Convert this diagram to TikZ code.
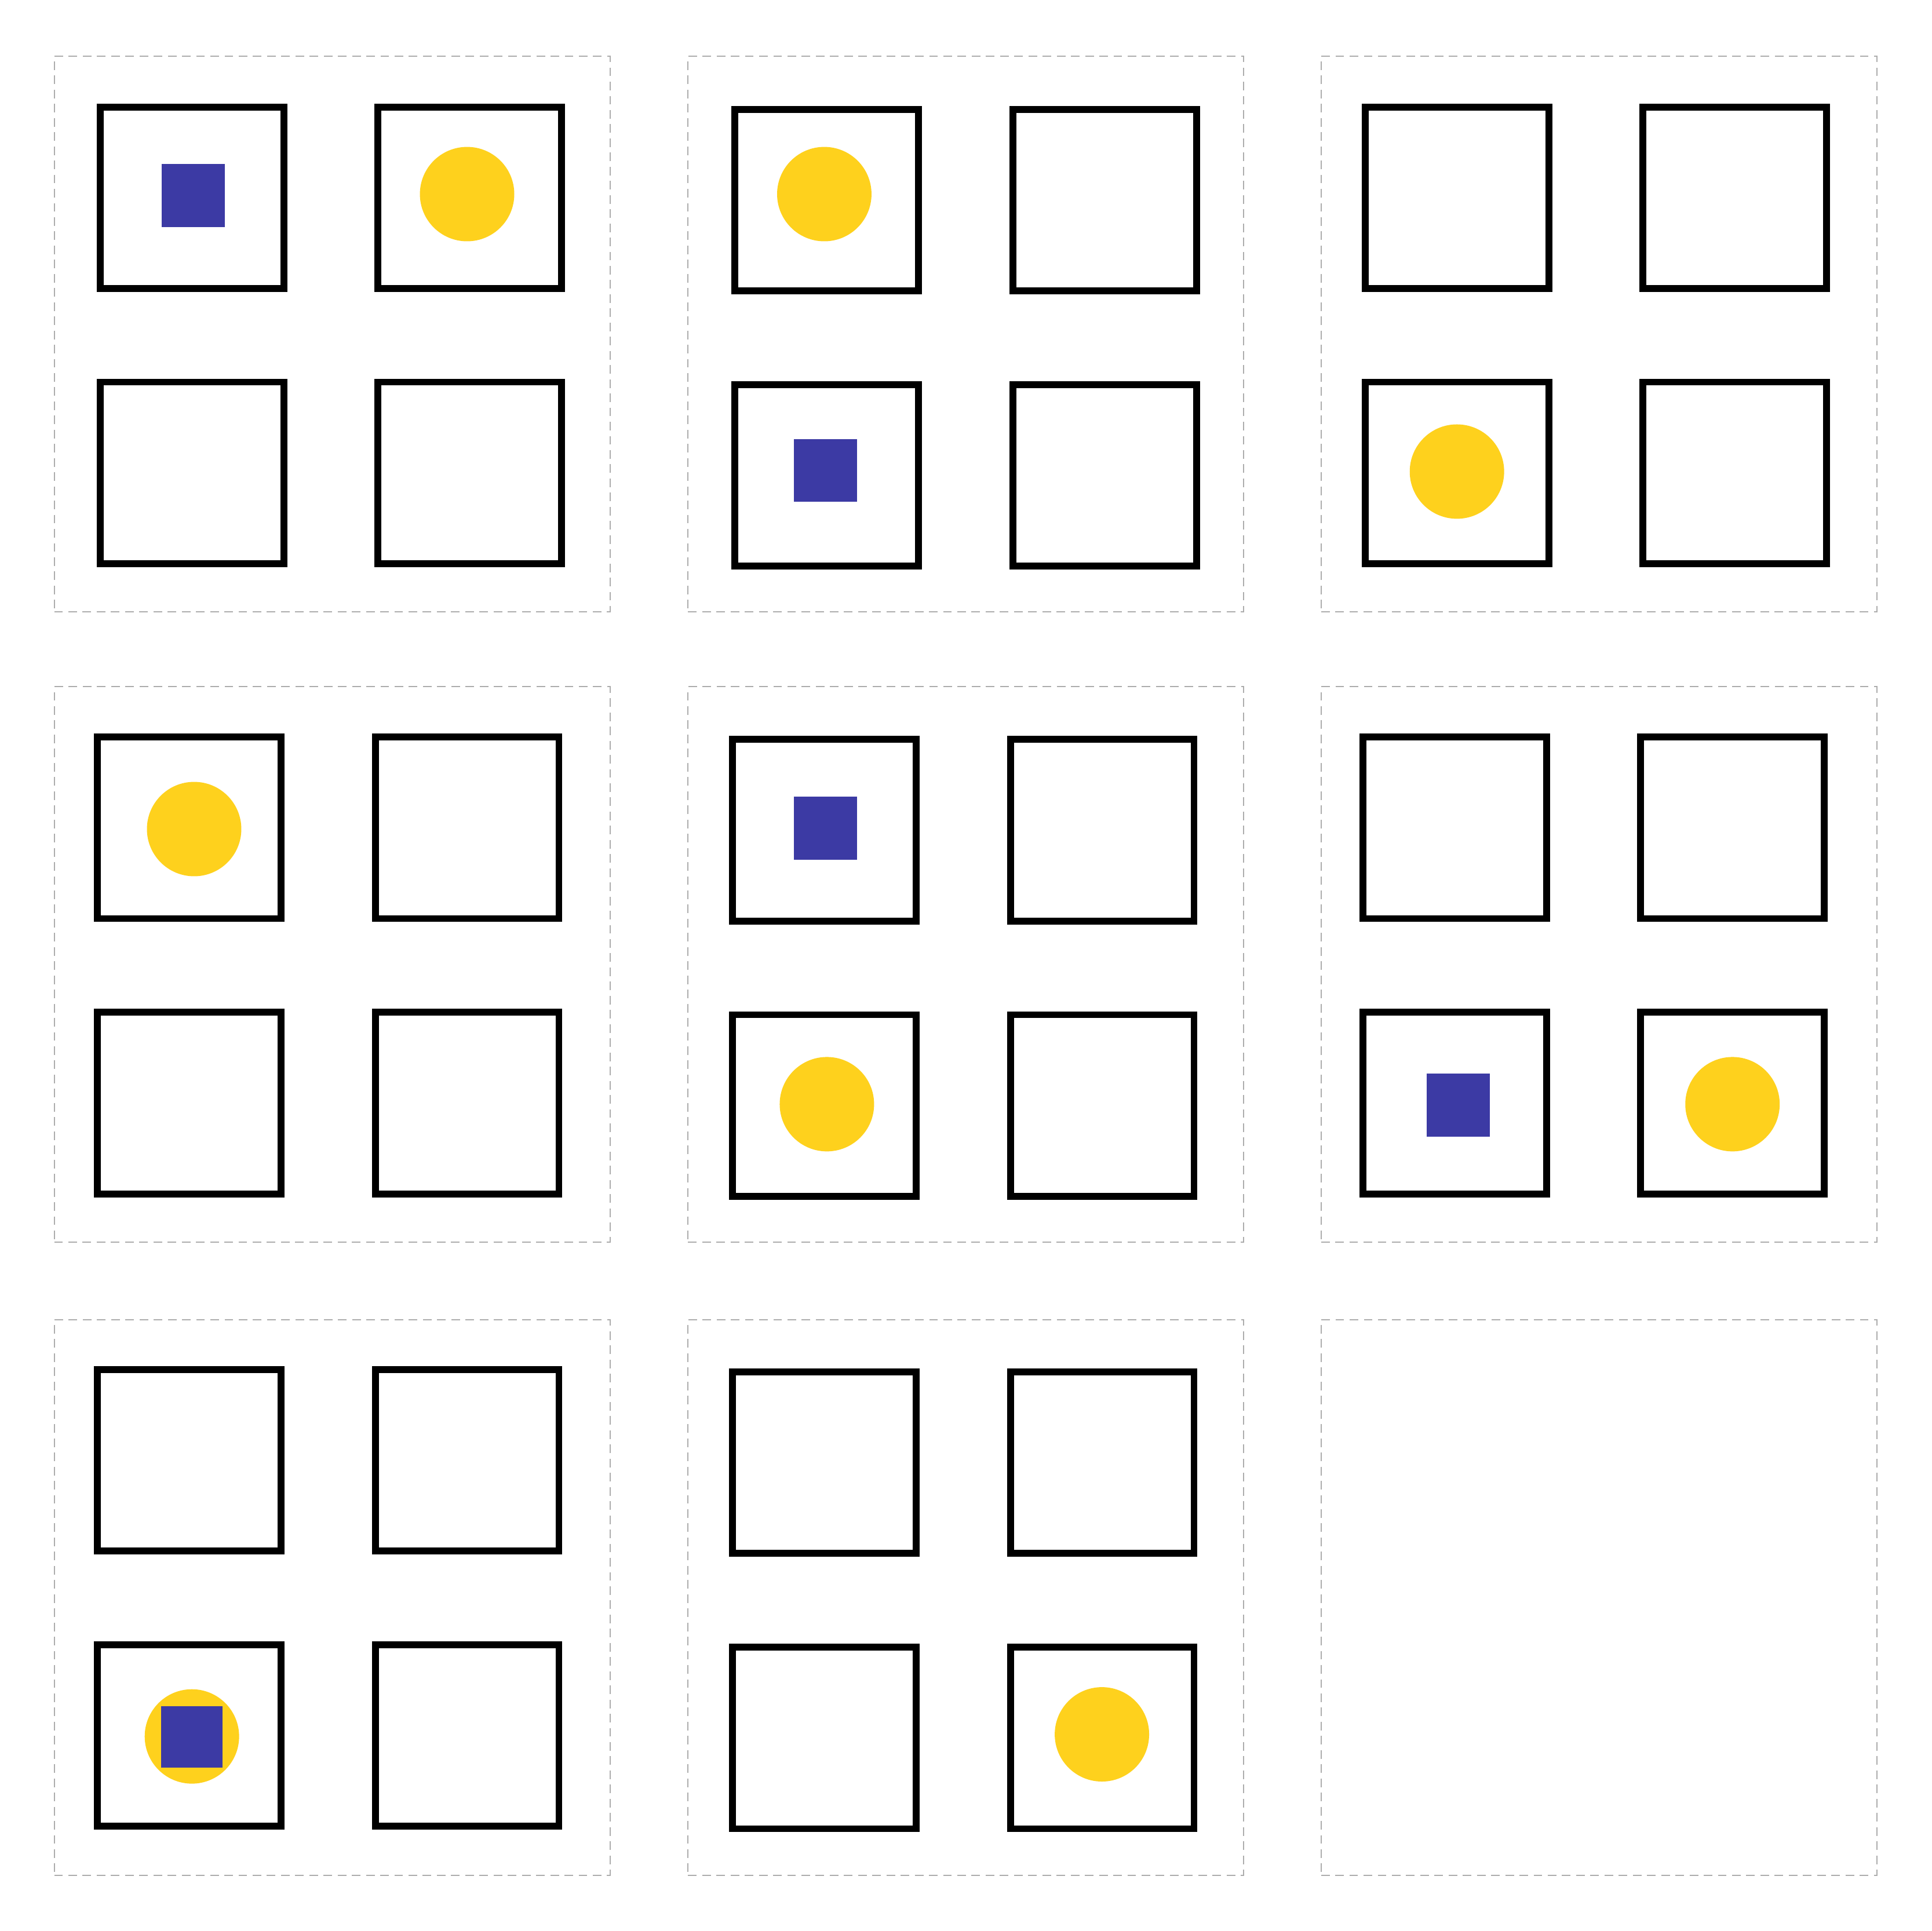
\documentclass[tikz,border=0pt]{standalone}
\definecolor{sqblue}{RGB}{60,58,164}
\definecolor{dotyellow}{RGB}{254,209,29}
\definecolor{panelgray}{RGB}{172,172,172}
\tikzset{
  panel/.style={draw=panelgray, line width=0.09mm, dash pattern=on 0.7mm off 0.45mm,
    minimum width=4.509cm, minimum height=4.509cm, inner sep=0pt, outer sep=0pt},
  cell/.style={draw=black, line width=0.56mm, fill=white,
    minimum width=1.49cm, minimum height=1.473cm, inner sep=0pt},
  dot/.style={circle, fill=dotyellow, minimum size=0.766cm, inner sep=0pt},
  token/.style={rectangle, fill=sqblue, minimum size=0.512cm, inner sep=0pt}
}
\begin{document}
\begin{tikzpicture}[x=0.01cm, y=-0.01cm]
\useasboundingbox (0,0) rectangle (1568,1568);
% panels
\node[panel] (P11) at (269.6,271.1) {};
\node[panel] (P12) at (784.15,271.1) {};
\node[panel] (P13) at (1298.05,271.1) {};
\node[panel] (P21) at (269.6,783.25) {};
\node[panel] (P22) at (784.15,783.25) {};
\node[panel] (P23) at (1298.05,783.25) {};
\node[panel] (P31) at (269.6,1297.2) {};
\node[panel] (P32) at (784.15,1297.2) {};
\node[panel] (P33) at (1298.05,1297.2) {};
% cells, panel row 1
\node[cell] (c11a) at (155.85,160.75) {};
\node[cell] (c11b) at (381.3,160.75) {};
\node[cell] (c11c) at (155.85,383.95) {};
\node[cell] (c11d) at (381.3,383.95) {};
\node[cell] (c12a) at (671.15,162.4) {};
\node[cell] (c12b) at (896.75,162.4) {};
\node[cell] (c12c) at (671.15,385.85) {};
\node[cell] (c12d) at (896.75,385.85) {};
\node[cell] (c13a) at (1182.95,160.75) {};
\node[cell] (c13b) at (1408.4,160.75) {};
\node[cell] (c13c) at (1182.95,383.95) {};
\node[cell] (c13d) at (1408.4,383.95) {};
% panel row 2
\node[cell] (c21a) at (153.75,672.2) {};
\node[cell] (c21b) at (379.2,672.2) {};
\node[cell] (c21c) at (153.75,895.7) {};
\node[cell] (c21d) at (379.2,895.7) {};
\node[cell] (c22a) at (669.2,674.1) {};
\node[cell] (c22b) at (894.8,674.1) {};
\node[cell] (c22c) at (669.2,897.65) {};
\node[cell] (c22d) at (894.8,897.65) {};
\node[cell] (c23a) at (1181.05,672.2) {};
\node[cell] (c23b) at (1406.5,672.2) {};
\node[cell] (c23c) at (1181.05,895.7) {};
\node[cell] (c23d) at (1406.5,895.7) {};
% panel row 3
\node[cell] (c31a) at (153.75,1185.8) {};
\node[cell] (c31b) at (379.2,1185.8) {};
\node[cell] (c31c) at (153.75,1409.3) {};
\node[cell] (c31d) at (379.2,1409.3) {};
\node[cell] (c32a) at (669.2,1187.75) {};
\node[cell] (c32b) at (894.8,1187.75) {};
\node[cell] (c32c) at (669.2,1411.25) {};
\node[cell] (c32d) at (894.8,1411.25) {};
% yellow dots
\node[dot] (y11) at (379.2,157.6) {};
\node[dot] (y12) at (669.2,157.6) {};
\node[dot] (y13) at (1182.8,382.9) {};
\node[dot] (y21) at (157.6,673.2) {};
\node[dot] (y22) at (671.3,896.6) {};
\node[dot] (y23) at (1406.5,896.6) {};
\node[dot] (y31) at (155.8,1410.0) {};
\node[dot] (y32) at (894.6,1408.3) {};
% blue squares
\node[token] (b11) at (156.75,158.7) {};
\node[token] (b12) at (670.3,382.0) {};
\node[token] (b22) at (670.3,672.5) {};
\node[token] (b23) at (1183.9,897.5) {};
\node[token, minimum size=0.496cm] (b31) at (155.7,1410.35) {};
\end{tikzpicture}
\end{document}
